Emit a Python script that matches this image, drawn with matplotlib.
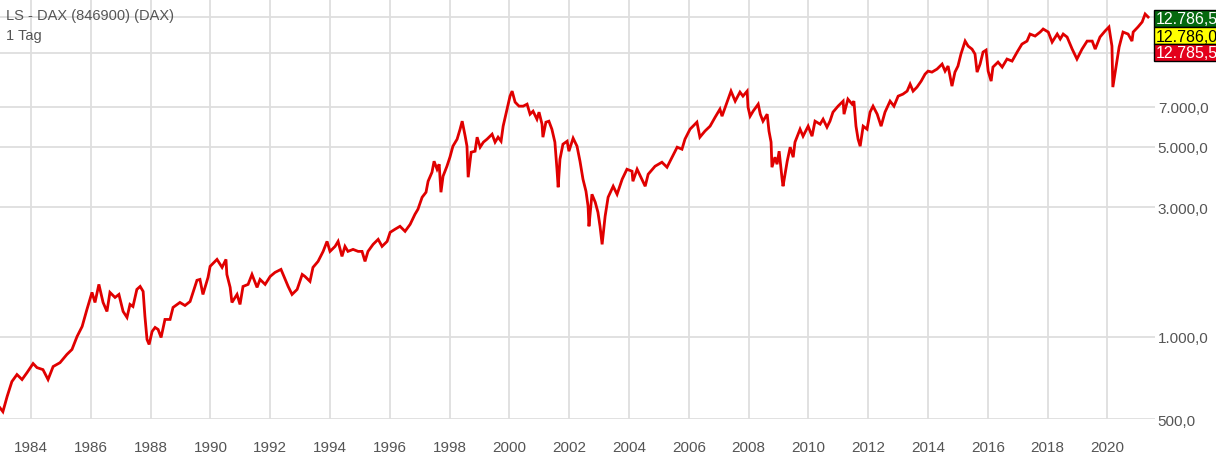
import matplotlib
matplotlib.use("Agg")
import matplotlib.pyplot as plt
from matplotlib.patches import Rectangle
from matplotlib.ticker import FixedLocator, FuncFormatter

plt.rcParams['font.family'] = ['Liberation Sans', 'DejaVu Sans']

# DAX daily closes (decimal year, index points)
years = [
    1982.96, 1983.06, 1983.20, 1983.36, 1983.53, 1983.70, 1983.87, 1984.07, 1984.20, 1984.40,
    1984.57, 1984.74, 1984.97, 1985.20, 1985.37, 1985.54, 1985.71, 1985.87, 1986.04, 1986.14,
    1986.27, 1986.41, 1986.54, 1986.64, 1986.81, 1986.94, 1987.08, 1987.21, 1987.31, 1987.41,
    1987.54, 1987.65, 1987.75, 1987.81, 1987.88, 1987.95, 1988.05, 1988.15, 1988.25, 1988.35,
    1988.48, 1988.65, 1988.75, 1988.98, 1989.15, 1989.32, 1989.42, 1989.55, 1989.65, 1989.75,
    1989.92, 1989.99, 1990.22, 1990.39, 1990.52, 1990.55, 1990.66, 1990.72, 1990.89, 1990.99,
    1991.09, 1991.26, 1991.39, 1991.56, 1991.66, 1991.83, 1992.00, 1992.16, 1992.36, 1992.50,
    1992.60, 1992.73, 1992.90, 1993.07, 1993.16, 1993.33, 1993.43, 1993.60, 1993.77, 1993.90,
    1994.00, 1994.17, 1994.27, 1994.40, 1994.50, 1994.60, 1994.77, 1994.94, 1995.07, 1995.17,
    1995.27, 1995.44, 1995.61, 1995.74, 1995.91, 1996.01, 1996.17, 1996.34, 1996.51, 1996.68,
    1996.84, 1996.94, 1997.08, 1997.21, 1997.28, 1997.41, 1997.48, 1997.58, 1997.65, 1997.71,
    1997.78, 1997.91, 1998.01, 1998.11, 1998.25, 1998.35, 1998.42, 1998.52, 1998.58, 1998.62,
    1998.72, 1998.85, 1998.92, 1999.02, 1999.13, 1999.25, 1999.42, 1999.52, 1999.62, 1999.72,
    1999.79, 1999.92, 2000.02, 2000.09, 2000.19, 2000.32, 2000.46, 2000.59, 2000.69, 2000.79,
    2000.92, 2000.99, 2001.09, 2001.12, 2001.22, 2001.32, 2001.42, 2001.52, 2001.59, 2001.63,
    2001.69, 2001.79, 2001.93, 2001.99, 2002.13, 2002.26, 2002.36, 2002.46, 2002.56, 2002.63,
    2002.66, 2002.76, 2002.87, 2002.96, 2003.03, 2003.10, 2003.20, 2003.30, 2003.47, 2003.60,
    2003.77, 2003.93, 2004.10, 2004.13, 2004.27, 2004.43, 2004.54, 2004.64, 2004.87, 2005.10,
    2005.27, 2005.44, 2005.61, 2005.77, 2005.87, 2006.04, 2006.27, 2006.37, 2006.54, 2006.71,
    2006.88, 2007.04, 2007.11, 2007.28, 2007.41, 2007.55, 2007.71, 2007.81, 2007.95, 2007.98,
    2008.05, 2008.15, 2008.32, 2008.39, 2008.48, 2008.62, 2008.68, 2008.75, 2008.78, 2008.88,
    2008.95, 2009.02, 2009.12, 2009.15, 2009.29, 2009.39, 2009.49, 2009.55, 2009.72, 2009.82,
    2009.99, 2010.12, 2010.22, 2010.39, 2010.49, 2010.62, 2010.72, 2010.82, 2010.99, 2011.16,
    2011.19, 2011.32, 2011.46, 2011.52, 2011.59, 2011.66, 2011.73, 2011.83, 2011.96, 2012.06,
    2012.16, 2012.30, 2012.43, 2012.56, 2012.73, 2012.86, 2013.00, 2013.16, 2013.30, 2013.40,
    2013.50, 2013.63, 2013.77, 2013.90, 2014.00, 2014.13, 2014.30, 2014.47, 2014.57, 2014.67,
    2014.80, 2014.90, 2015.00, 2015.10, 2015.24, 2015.34, 2015.47, 2015.57, 2015.64, 2015.74,
    2015.84, 2015.94, 2016.01, 2016.11, 2016.17, 2016.34, 2016.48, 2016.64, 2016.81, 2016.98,
    2017.14, 2017.31, 2017.41, 2017.58, 2017.75, 2017.85, 2018.02, 2018.15, 2018.32, 2018.42,
    2018.52, 2018.65, 2018.82, 2018.98, 2019.15, 2019.32, 2019.49, 2019.59, 2019.75, 2019.92,
    2020.05, 2020.15, 2020.18, 2020.29, 2020.39, 2020.52, 2020.69, 2020.82, 2020.86, 2021.02,
    2021.16, 2021.26, 2021.36,
]
dax = [
    550, 532, 604, 686, 728, 698, 741, 799, 772, 759,
    698, 779, 805, 863, 900, 1004, 1093, 1262, 1458, 1339,
    1560, 1339, 1241, 1458, 1397, 1433, 1241, 1180, 1317, 1294,
    1495, 1533, 1470, 1190, 979, 939, 1048, 1084, 1066, 996,
    1160, 1160, 1284, 1339, 1305, 1350, 1458, 1615, 1627, 1433,
    1655, 1817, 1927, 1801, 1927, 1697, 1521, 1339, 1433, 1317,
    1533, 1560, 1697, 1521, 1627, 1560, 1669, 1726, 1771, 1627,
    1533, 1433, 1495, 1697, 1669, 1600, 1801, 1895, 2062, 2244,
    2062, 2151, 2244, 1977, 2151, 2062, 2097, 2062, 2062, 1895,
    2062, 2188, 2283, 2151, 2244, 2422, 2485, 2549, 2443, 2592,
    2821, 2943, 3258, 3399, 3730, 4025, 4418, 4129, 4307, 3399,
    3892, 4235, 4571, 5017, 5323, 5793, 6199, 5460, 5017, 3859,
    4768, 4809, 5414, 4975, 5192, 5323, 5553, 5192, 5414, 5233,
    5942, 6862, 7660, 7991, 7281, 7038, 7038, 7158, 6576, 6745,
    6304, 6689, 6043, 5414, 6146, 6199, 5793, 5192, 4129, 3546,
    4494, 5103, 5233, 4809, 5368, 5017, 4418, 3794, 3427, 3019,
    2549, 3341, 3123, 2869, 2549, 2188, 2774, 3258, 3576, 3341,
    3794, 4129, 4060, 3730, 4129, 3794, 3576, 3958, 4235, 4381,
    4200, 4571, 4975, 4891, 5323, 5793, 6146, 5414, 5702, 5942,
    6412, 6862, 6466, 7281, 7991, 7343, 7924, 7660, 7991, 6979,
    6466, 6745, 7158, 6576, 6199, 6576, 5702, 5192, 4200, 4571,
    4307, 4809, 3794, 3576, 4418, 4975, 4571, 5192, 5793, 5460,
    5942, 5460, 6199, 6043, 6304, 5892, 6199, 6689, 7038, 7343,
    6576, 7468, 7158, 7343, 5942, 5323, 5017, 5942, 5793, 6689,
    7038, 6576, 5942, 6689, 7343, 7038, 7660, 7791, 7991, 8478,
    7991, 8266, 8696, 9227, 9464, 9384, 9627, 10043, 9464, 9875,
    8336, 9384, 9875, 10933, 12198, 11693, 11400, 10933, 9384, 10043,
    11119, 11302, 9464, 8696, 9792, 10214, 9792, 10480, 10301, 11119,
    11893, 12198, 12946, 12729, 13167, 13510, 13167, 12095, 12946, 12410,
    12946, 12622, 11400, 10480, 11400, 12198, 12198, 11400, 12622, 13283,
    13741, 11693, 8266, 9875, 11595, 13167, 12946, 12198, 13167, 13741,
    14334, 15335, 14951,
]

year_ticks = list(range(1984, 2021, 2))
price_ticks = [500, 1000, 3000, 5000, 7000]
# grid levels whose labels sit under the quote boxes
hidden_price_ticks = [11000, 15000]

title = "LS - DAX (846900) (DAX)"
interval = "1 Tag"
quote_labels = ["12.786,5", "12.786,0", "12.785,5"]
quote_colors = ["#05690f", "#ffff00", "#e3001b"]
quote_text_colors = ["white", "black", "white"]

W, H = 1216, 460


def de_format(v, pos=None):
    s = f"{v:,.1f}"
    return s.replace(",", "X").replace(".", ",").replace("X", ".")


def main():
    fig = plt.figure(figsize=(W / 100, H / 100), dpi=100)
    ax = fig.add_axes([0, 1 - 420 / H, 1155 / W, 420 / H])

    ax.plot(years, dax, color="#e00000", lw=2.0, solid_joinstyle="miter")

    ax.set_yscale("log")
    ax.set_ylim(500, 17410)
    ax.set_xlim(1982.963, 2021.59)

    ax.yaxis.set_major_locator(FixedLocator(price_ticks))
    ax.yaxis.set_minor_locator(FixedLocator(hidden_price_ticks))
    ax.yaxis.set_major_formatter(FuncFormatter(de_format))
    ax.yaxis.set_minor_formatter(FuncFormatter(lambda v, p: ""))
    ax.yaxis.tick_right()
    ax.xaxis.set_major_locator(FixedLocator(year_ticks))
    ax.set_xticklabels([str(y) for y in year_ticks])

    ax.tick_params(axis="x", length=0, pad=15, labelsize=11, labelcolor="#555555")
    ax.tick_params(axis="y", which="both", length=0, pad=2, labelsize=11, labelcolor="#555555")
    ax.grid(True, which="both", axis="y", color="#dedede", lw=1.3)
    ax.grid(True, axis="x", color="#dedede", lw=1.3)
    ax.set_axisbelow(True)
    for s in ax.spines.values():
        s.set_visible(False)

    fig.text(6 / W, 1 - 16 / H, title, fontsize=10.5, color="#555555", va="center")
    fig.text(6 / W, 1 - 36 / H, interval, fontsize=10.5, color="#555555", va="center")

    # quote boxes on the right edge
    top = 11
    bh = 17
    for i, (lab, c, tc) in enumerate(zip(quote_labels, quote_colors, quote_text_colors)):
        y0 = top + i * bh
        fig.patches.append(Rectangle((1154 / W, 1 - (y0 + bh) / H), 70 / W, bh / H,
                                     transform=fig.transFigure, facecolor=c,
                                     edgecolor="black", lw=1, zorder=5))
        fig.text(1156 / W, 1 - (y0 + bh / 2 + 0.5) / H, lab, fontsize=11.5, color=tc,
                 va="center", ha="left", zorder=6)

    fig.savefig("out.png", dpi=100)


if __name__ == '__main__':
    main()
